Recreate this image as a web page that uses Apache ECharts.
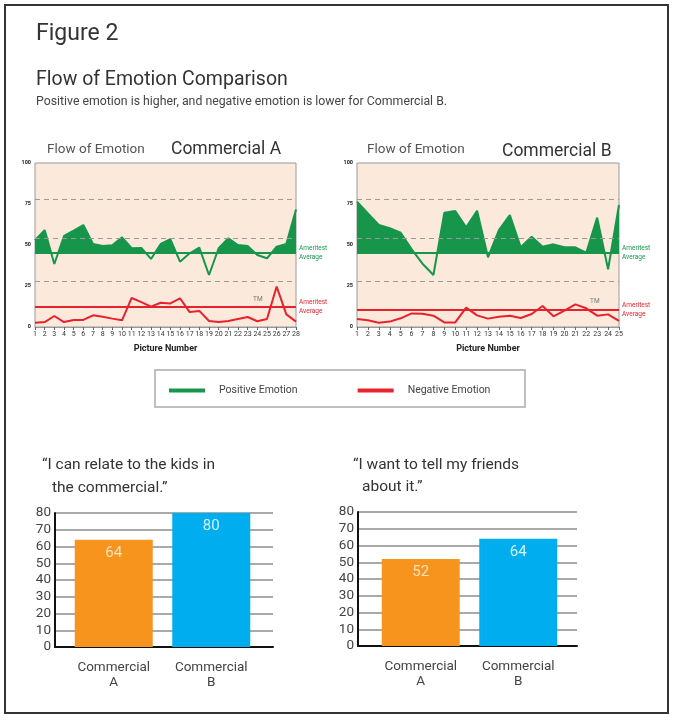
<!DOCTYPE html>
<html><head><meta charset="utf-8">
<script src="https://cdn.jsdelivr.net/npm/echarts@6/dist/echarts.min.js"></script>
<style>html,body{margin:0;padding:0;background:#fff}#c{width:675px;height:720px}</style>
</head><body><div id="c"></div>
<script>
// ---- data ----
const posA = [53, 59.1, 38.4, 55.5, 58.7, 62.2, 50.6, 49.4, 49.8, 54.7, 48, 48.2, 41.5, 50.6, 53.5, 39.8, 44.9, 48.4, 31.7, 48, 54.1, 50, 49.4, 43.9, 41.9, 49, 50.6, 71.7];
const negA = [2.6, 3, 6.7, 3, 4.3, 4.3, 7.1, 6.3, 5.1, 4.1, 17.7, 15.2, 12.4, 14.8, 14.4, 17.5, 9.1, 9.8, 3.7, 3, 3.7, 4.9, 6.1, 3.5, 4.9, 24.6, 7.7, 3.3];
const posB = [76.4, 69.3, 62.2, 60.2, 57.5, 47.5, 38.6, 31.7, 69.7, 70.7, 60.8, 70.9, 42.5, 59.1, 68.3, 48.6, 55.1, 49, 50.4, 48.6, 48.6, 45.3, 66.7, 35.2, 74.4];
const negB = [4.9, 4.1, 2.6, 3.3, 5.3, 8.3, 8.1, 6.9, 2.8, 2.8, 11.8, 7.1, 5.1, 6.3, 6.9, 5.5, 7.9, 12.8, 6.5, 10, 13.8, 11.4, 6.9, 7.7, 3.7];
const posAvgA = 45.5, posAvgB = 45;
const negAvgA = 12.4, negAvgB = 10.4;
const guideLines = [78, 54, 28];
const flowTicks = [0, 25, 50, 75, 100];
const barCategories = ['Commercial\nA', 'Commercial\nB'];
const relateValues = [64, 80];
const tellValues = [52, 64];
const barTicks = [0, 10, 20, 30, 40, 50, 60, 70, 80];

// ---- styles ----
const GREEN = '#17964b', RED = '#e8222c', PEACH = '#fbe9db';
const ORANGE = '#f7941d', BLUE = '#00aeef';
const FONT = 'Roboto, "Open Sans", sans-serif';

function fillPoints(vals, avg) {
  const pts = [[1, avg]];
  for (let i = 0; i < vals.length; i++) {
    const x = i + 1, v = vals[i];
    if (i > 0) {
      const pv = vals[i - 1];
      if ((pv - avg) * (v - avg) < 0) {
        const t = (avg - pv) / (v - pv);
        pts.push([x - 1 + t, avg]);
      }
    }
    pts.push([x, Math.max(v, avg)]);
  }
  pts.push([vals.length, avg]);
  return pts;
}
function toXY(vals) { return vals.map((v, i) => [i + 1, v]); }

function flowAxes(gi, n) {
  return {
    x: {
      type: 'value', gridIndex: gi, min: 1, max: n, interval: 1,
      axisLine: { show: true, lineStyle: { color: '#999', width: 1 } },
      axisTick: { show: true, length: 3, lineStyle: { color: '#666' } },
      axisLabel: { fontSize: 7, color: '#333', margin: 4, fontFamily: FONT },
      splitLine: { show: false },
      name: 'Picture Number', nameLocation: 'middle', nameGap: 17,
      nameTextStyle: { fontSize: 9, fontWeight: 'bold', color: '#222', fontFamily: FONT }
    },
    y: {
      type: 'value', gridIndex: gi, min: 0, max: 100, interval: 25,
      axisLine: { show: false }, axisTick: { show: false },
      axisLabel: { fontSize: 5.5, fontWeight: 'bold', color: '#222', margin: 4,
        formatter: v => flowTicks.includes(v) ? String(v) : '' },
      splitLine: { show: false }
    }
  };
}
function flowSeries(gi, pos, neg, posAvg, negAvg) {
  const pts = fillPoints(pos, posAvg);
  const avgLabel = (color) => ({ show: true, position: 'end', formatter: 'Ameritest\nAverage',
    color, fontSize: 6.5, lineHeight: 9, distance: 3, fontFamily: FONT });
  return [
    { type: 'line', xAxisIndex: gi, yAxisIndex: gi, z: 1, silent: true, data: [[1, 0]],
      symbol: 'none', lineStyle: { width: 0, opacity: 0 },
      markLine: { symbol: 'none', silent: true, label: { show: false },
        lineStyle: { color: '#9a9a9a', type: [5, 4], width: 1.2 },
        data: guideLines.map(v => ({ yAxis: v })) } },
    { type: 'custom', xAxisIndex: gi, yAxisIndex: gi, z: 2, silent: true, data: [[1, posAvg]],
      renderItem: (params, api) => ({ type: 'polygon',
        shape: { points: pts.map(p => api.coord(p)) }, style: { fill: GREEN } }) },
    { name: 'Positive Emotion', type: 'line', xAxisIndex: gi, yAxisIndex: gi, z: 3,
      data: toXY(pos), showSymbol: false, symbol: 'none',
      lineStyle: { color: GREEN, width: 2 }, itemStyle: { color: GREEN },
      markLine: { symbol: 'none', silent: true, data: [{ yAxis: posAvg }],
        lineStyle: { color: GREEN, width: 2, type: 'solid' }, label: avgLabel(GREEN) } },
    { name: 'Negative Emotion', type: 'line', xAxisIndex: gi, yAxisIndex: gi, z: 3,
      data: toXY(neg), showSymbol: false, symbol: 'none',
      lineStyle: { color: RED, width: 2 }, itemStyle: { color: RED },
      markLine: { symbol: 'none', silent: true, data: [{ yAxis: negAvg }],
        lineStyle: { color: RED, width: 2, type: 'solid' }, label: avgLabel(RED) } }
  ];
}

const fA = flowAxes(0, posA.length), fB = flowAxes(1, posB.length);

function barAxes(axGrid, barGrid) {
  return {
    x: [
      { type: 'value', gridIndex: axGrid, min: 0, max: 1, axisLine: { show: true, onZero: false, lineStyle: { color: '#111', width: 2 } },
        axisTick: { show: false }, axisLabel: { show: false }, splitLine: { show: false } },
      { type: 'category', gridIndex: barGrid, data: barCategories,
        axisLine: { show: false }, axisTick: { show: false },
        axisLabel: { fontSize: 13.5, color: '#444', lineHeight: 15, margin: 13, fontFamily: FONT } }
    ],
    y: [
      { type: 'value', gridIndex: axGrid, min: 0, max: 80, interval: 10,
        axisLine: { show: true, lineStyle: { color: '#111', width: 2 } }, axisTick: { show: false },
        axisLabel: { fontSize: 13.5, color: '#444', margin: 4, fontFamily: FONT },
        splitLine: { show: true, lineStyle: { color: '#8c8c8c', width: 1.5 } } },
      { type: 'value', gridIndex: barGrid, min: 0, max: 80, interval: 10, show: false,
        splitLine: { show: false } }
    ]
  };
}
const bL = barAxes(2, 3), bR = barAxes(4, 5);
const barColors = [ORANGE, BLUE];
const barLabelColors = ['#ffe2c2', '#d4f3ff'];
function barSeries(gi, vals) {
  return { type: 'bar', xAxisIndex: gi, yAxisIndex: gi, barWidth: 78, z: 3,
    data: vals.map((v, i) => ({ value: v, itemStyle: { color: barColors[i] },
      label: { color: barLabelColors[i] } })),
    label: { show: true, position: 'insideTop', distance: 6, fontSize: 15, fontFamily: FONT } };
}

function txt(x, y, text, size, color, extra) {
  return { type: 'text', x, y, silent: true,
    style: Object.assign({ text, fontSize: size, fill: color, fontFamily: FONT, verticalAlign: 'middle' }, extra || {}) };
}

const option = {
  animation: false,
  textStyle: { fontFamily: FONT },
  grid: [
    { left: 35, top: 163, width: 261, height: 164, show: true, backgroundColor: PEACH, borderColor: '#9a9a9a', borderWidth: 1 },
    { left: 357, top: 163, width: 262, height: 164, show: true, backgroundColor: PEACH, borderColor: '#9a9a9a', borderWidth: 1 },
    { left: 55, top: 513, width: 218, height: 134 },
    { left: 65, top: 513, width: 195, height: 134 },
    { left: 358, top: 512, width: 219, height: 134 },
    { left: 372, top: 512, width: 195, height: 134 }
  ],
  xAxis: [fA.x, fB.x, bL.x[0], bL.x[1], bR.x[0], bR.x[1]].map((a, i) => Object.assign({}, a, { gridIndex: i })),
  yAxis: [fA.y, fB.y, bL.y[0], bL.y[1], bR.y[0], bR.y[1]].map((a, i) => Object.assign({}, a, { gridIndex: i })),
  legend: {
    left: 169, top: 385, padding: 0, itemWidth: 36, itemHeight: 4, itemGap: 60, icon: 'rect',
    data: ['Positive Emotion', 'Negative Emotion'], selectedMode: false,
    textStyle: { fontSize: 10.5, color: '#444', padding: [0, 0, 0, 9], fontFamily: FONT }
  },
  series: [
    ...flowSeries(0, posA, negA, posAvgA, negAvgA),
    ...flowSeries(1, posB, negB, posAvgB, negAvgB),
    barSeries(3, relateValues),
    barSeries(5, tellValues)
  ],
  graphic: [
    { type: 'rect', silent: true, shape: { x: 5, y: 5, width: 663, height: 708 },
      style: { fill: 'none', stroke: '#333', lineWidth: 2 } },
    { type: 'rect', silent: true, shape: { x: 155, y: 370, width: 370, height: 37 },
      style: { fill: 'none', stroke: '#aaa', lineWidth: 1.5 } },
    txt(36, 34, 'Figure 2', 23, '#333'),
    txt(36, 80, 'Flow of Emotion Comparison', 19.5, '#333'),
    txt(36, 102, 'Positive emotion is higher, and negative emotion is lower for Commercial B.', 12.3, '#444'),
    txt(47, 150, 'Flow of Emotion', 13.5, '#555'),
    txt(171, 150, 'Commercial A', 17.5, '#333'),
    txt(367, 150, 'Flow of Emotion', 13.5, '#555'),
    txt(502, 152, 'Commercial B', 17.5, '#333'),
    txt(253, 299, 'TM', 6.5, '#777'),
    txt(590, 301, 'TM', 6.5, '#777'),
    txt(42, 465, '\u201cI can relate to the kids in', 15.5, '#333'),
    txt(52, 488, 'the commercial.\u201d', 15.5, '#333'),
    txt(353, 465, '\u201cI want to tell my friends', 15.5, '#333'),
    txt(362, 487, 'about it.\u201d', 15.5, '#333')
  ]
};
const chart = echarts.init(document.getElementById('c'), null, { renderer: 'canvas' });
chart.setOption(option);
</script></body></html>
